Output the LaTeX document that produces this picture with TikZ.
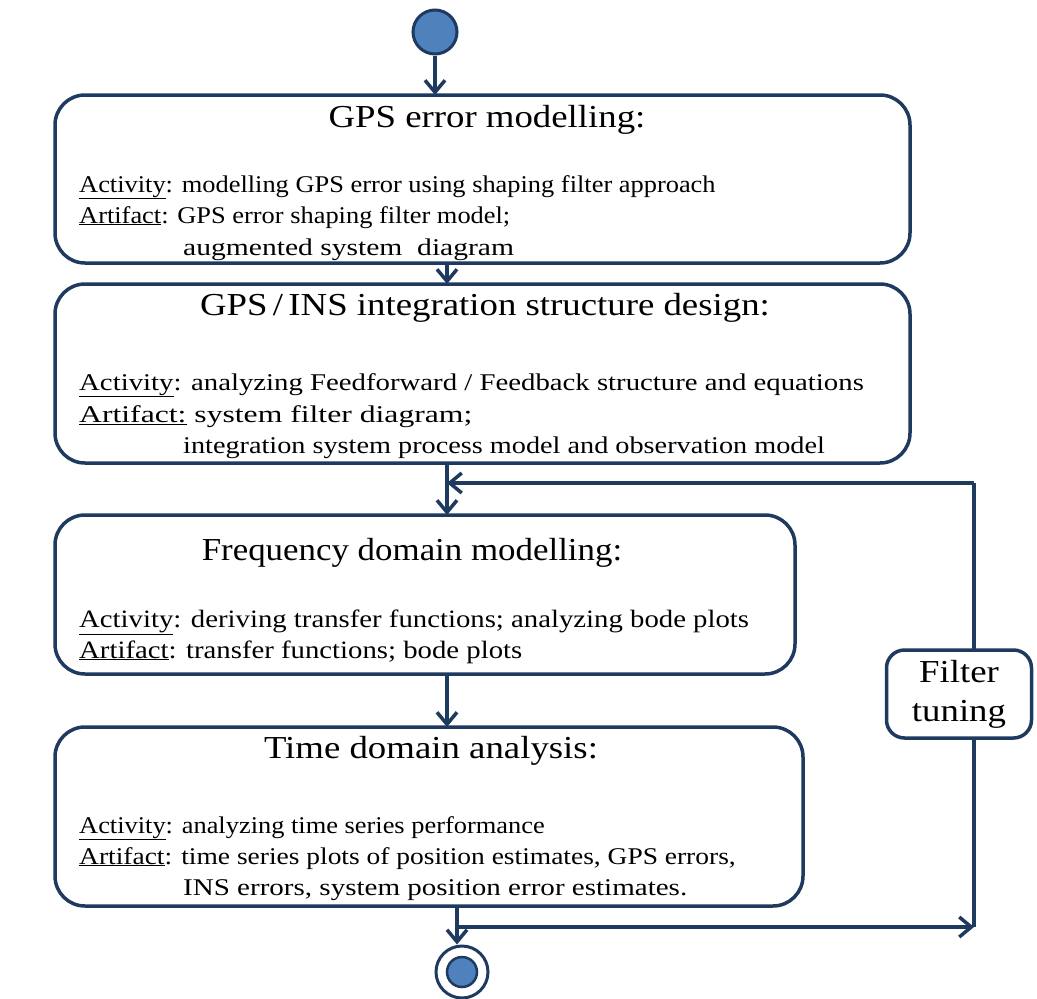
\documentclass[tikz,border=0pt]{standalone}
\usepackage{fontspec}
\usepackage{graphicx}
\setmainfont{Liberation Serif}
\newfontfamily\bodyfont[FakeStretch=1.1]{Liberation Serif}
\newfontfamily\ttlfont[FakeStretch=1.15]{Liberation Serif}
\newfontfamily\bodyfontc[FakeStretch=1.15]{Liberation Serif}
\newfontfamily\ttlfontc[FakeStretch=1.09]{Liberation Serif}
\newcommand{\xstr}[2]{\scalebox{#1}[1]{#2}}
\usetikzlibrary{arrows.meta}
\definecolor{navy}{HTML}{1F3A5F}
\definecolor{fillblue}{HTML}{4F81BD}
\begin{document}
\begin{tikzpicture}[x=1pt,y=-1pt,
  box/.style={draw=navy, line width=3.5pt, rounded corners=30pt, anchor=north west, inner sep=0pt, outer sep=0pt},
  flow/.style={draw=navy, line width=3.5pt, -{Straight Barb[length=12pt,width=20pt,line width=3.5pt]}},
  plain/.style={draw=navy, line width=3.5pt},
  ttl/.style={anchor=base, inner sep=0pt, font=\ttlfont\fontsize{32}{38}\selectfont},
  ttlc/.style={anchor=base, inner sep=0pt, font=\ttlfontc\fontsize{32}{38}\selectfont},
  body/.style={anchor=base west, inner sep=0pt, font=\bodyfont\fontsize{24}{31}\selectfont},
  bodyc/.style={anchor=base west, inner sep=0pt, font=\bodyfontc\fontsize{25}{31}\selectfont},
  tune/.style={draw=navy, line width=3.5pt, rounded corners=18pt, fill=white, align=center, minimum width=145pt, minimum height=88pt, inner sep=0pt, font=\ttlfont\fontsize{32}{39}\selectfont}
]
\useasboundingbox (0,0) rectangle (1037,999);
% start
\node[circle, draw=navy, fill=fillblue, line width=3pt, minimum size=44pt, inner sep=0pt] (start) at (435,32) {};
% boxes
\node[box, minimum width=855pt, minimum height=168pt] (b1) at (55,95) {};
\node[box, minimum width=855pt, minimum height=179pt] (b2) at (55,284) {};
\node[box, minimum width=740pt, minimum height=159pt] (b3) at (55,515) {};
\node[box, minimum width=748pt, minimum height=179pt] (b4) at (55,727) {};
% texts box1
\node[ttl] (t1) at (487,127) {GPS error modelling:};
\node[body] (a1) at (79,192) {\underline{Activity}: modelling GPS error using shaping filter approach};
\node[body] (r1) at (79,223) {\underline{Artifact}: GPS error shaping filter model;};
\node[body] (r1b) at (183,255) {\xstr{1.12}{augmented system\ \ diagram}};
% box2
\node[ttl] (t2) at (485,315) {GPS\,/\,INS integration structure design:};
\node[body] (a2) at (79,390) {\xstr{1.09}{\underline{Activity}: analyzing Feedforward / Feedback structure and equations}};
\node[body] (r2) at (79,422) {\xstr{1.2}{\underline{Artifact:} system filter diagram;}};
\node[body] (r2b) at (183,453) {\xstr{1.07}{integration system process model and observation model}};
% box3
\node[ttlc] (t3) at (412,560) {Frequency domain modelling:};
\node[bodyc] (a3) at (79,627) {\underline{Activity}: deriving transfer functions; analyzing bode plots};
\node[bodyc] (r3) at (79,658) {\underline{Artifact}: transfer functions; bode plots};
% box4
\node[ttl] (t4) at (431,758) {Time domain analysis:};
\node[body] (a4) at (79,833) {\underline{Activity}: analyzing time series performance};
\node[body] (r4) at (79,864) {\xstr{1.04}{\underline{Artifact}: time series plots of position estimates, GPS errors,}};
\node[body] (r4b) at (183,895) {\xstr{1.1}{INS errors, system position error estimates.}};
% end node
\node[circle, draw=navy, line width=3pt, minimum size=52pt, inner sep=0pt] (end) at (462,972) {};
\node[circle, fill=fillblue, draw=navy, line width=2.5pt, minimum size=30pt, inner sep=0pt] (endin) at (end.center) {};
% coordinates
\coordinate (fbin) at (447,483);
\coordinate (fbcorner) at (974,483);
\coordinate (split) at (457,927);
\coordinate (rcorner) at (974,927);
% connectors
\draw[flow] (start.south) -- (start.south |- b1.north);
\draw[flow] (b1.south -| fbin) -- (b2.north -| fbin);
\draw[flow] (b2.south -| fbin) -- (b3.north -| fbin);
\draw[flow] (b3.south -| fbin) -- (b4.north -| fbin);
\draw[flow] (b4.south -| split) -- (split |- end.north);
\draw[flow] (split) -- (rcorner);
\draw[plain] (rcorner) -- (fbcorner);
\draw[flow] (fbcorner) -- (fbin);
% filter tuning
\node[tune] (tune) at (959,694) {Filter\\tuning};
\end{tikzpicture}
\end{document}
